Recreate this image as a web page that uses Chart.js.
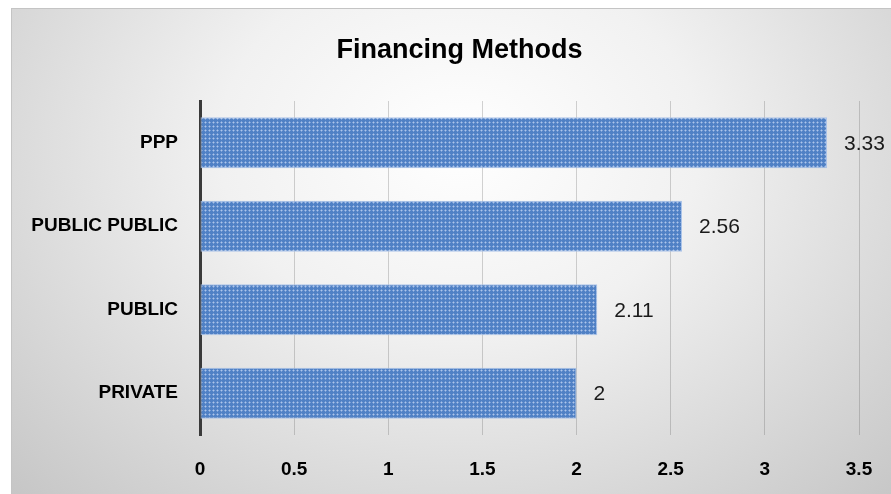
<!DOCTYPE html>
<html>
<head>
<meta charset="utf-8">
<script src="https://cdn.jsdelivr.net/npm/chart.js@4"></script>
<style>
  html, body { margin: 0; padding: 0; background: #fff; overflow: hidden; }
  #frame {
    position: absolute; left: 11px; top: 8px; width: 895px; height: 485px;
    border-left: 1px solid #c4c4c4; border-top: 1px solid #c4c4c4;
    background: radial-gradient(ellipse farthest-corner at 50% 28%, #ffffff 0%, #f1f1f1 38%, #c6c6c6 100%);
  }
  #myChart { position: absolute; left: 0; top: 0; }
</style>
</head>
<body>
<div id="frame"><canvas id="myChart" width="895" height="485"></canvas></div>
<script>
// chart data
var categories = ['PPP', 'PUBLIC PUBLIC', 'PUBLIC', 'PRIVATE'];
var scores = [3.33, 2.56, 2.11, 2];
var xTickValues = [0, 0.5, 1, 1.5, 2, 2.5, 3, 3.5];
var chartTitle = 'Financing Methods';

// little dotted texture like the Excel fill
function makePattern() {
  var c = document.createElement('canvas');
  c.width = 4; c.height = 4;
  var g = c.getContext('2d');
  g.fillStyle = '#5081c5';
  g.fillRect(0, 0, 4, 4);
  g.fillStyle = '#7ea2d8';
  g.fillRect(0, 1, 3, 1);
  g.fillRect(1, 0, 1, 3);
  g.fillStyle = '#adc6ea';
  g.fillRect(1, 1, 1, 1);
  return g.createPattern(c, 'repeat');
}

// title drawn over the whole frame width (Excel centres it on the chart box)
var frameTitle = {
  id: 'frameTitle',
  afterDraw: function (chart) {
    var ctx = chart.ctx;
    ctx.save();
    ctx.font = 'bold 27px "Liberation Sans", Arial, sans-serif';
    ctx.fillStyle = '#000';
    ctx.textAlign = 'center';
    ctx.textBaseline = 'middle';
    ctx.fillText(chartTitle, chart.width / 2, 42);
    ctx.restore();
  }
};

// value labels to the right of each bar
var valueLabels = {
  id: 'valueLabels',
  afterDatasetsDraw: function (chart) {
    var ctx = chart.ctx;
    var meta = chart.getDatasetMeta(0);
    ctx.save();
    ctx.font = '21px "Liberation Sans", Arial, sans-serif';
    ctx.fillStyle = '#1a1a1a';
    ctx.textAlign = 'left';
    ctx.textBaseline = 'middle';
    meta.data.forEach(function (bar, i) {
      ctx.fillText(String(chart.data.datasets[0].data[i]), bar.x + 17, bar.y + 1);
    });
    ctx.restore();
  }
};

document.addEventListener('DOMContentLoaded', function () {
  var ctx = document.getElementById('myChart').getContext('2d');
  var myChart = new Chart(ctx, {
    type: 'bar',
    data: {
      labels: categories,
      datasets: [{
        label: 'Score',
        data: scores,
        backgroundColor: makePattern(),
        borderColor: 'rgba(165,192,232,0.9)',
        borderWidth: 1,
        borderSkipped: false,
        categoryPercentage: 1,
        barPercentage: 0.61
      }]
    },
    options: {
      indexAxis: 'y',
      responsive: false,
      animation: false,
      layout: { padding: { left: 0, right: 48, top: 92, bottom: 0 } },
      plugins: {
        legend: { display: false },
        tooltip: { enabled: false },
        title: { display: false }
      },
      scales: {
        x: {
          min: 0,
          max: 3.5,
          afterBuildTicks: function (scale) {
            scale.ticks = xTickValues.map(function (v) { return { value: v }; });
          },
          afterFit: function (scale) { scale.height = 59; },
          grid: { color: 'rgba(80,80,80,0.25)', lineWidth: 1, drawTicks: false, tickLength: 0 },
          border: { display: false },
          ticks: {
            padding: 23,
            color: '#000',
            callback: function (value) { return String(value); },
            font: { family: '"Liberation Sans", Arial, sans-serif', size: 19, weight: 'bold' }
          }
        },
        y: {
          afterFit: function (scale) { scale.width = 188; },
          grid: { display: false, drawTicks: false, tickLength: 0 },
          border: { display: true, color: '#3a3a3a', width: 3 },
          ticks: {
            padding: 22,
            color: '#000',
            font: { family: '"Liberation Sans", Arial, sans-serif', size: 19, weight: 'bold' }
          }
        }
      }
    },
    plugins: [valueLabels, frameTitle]
  });
});
</script>
</body>
</html>
